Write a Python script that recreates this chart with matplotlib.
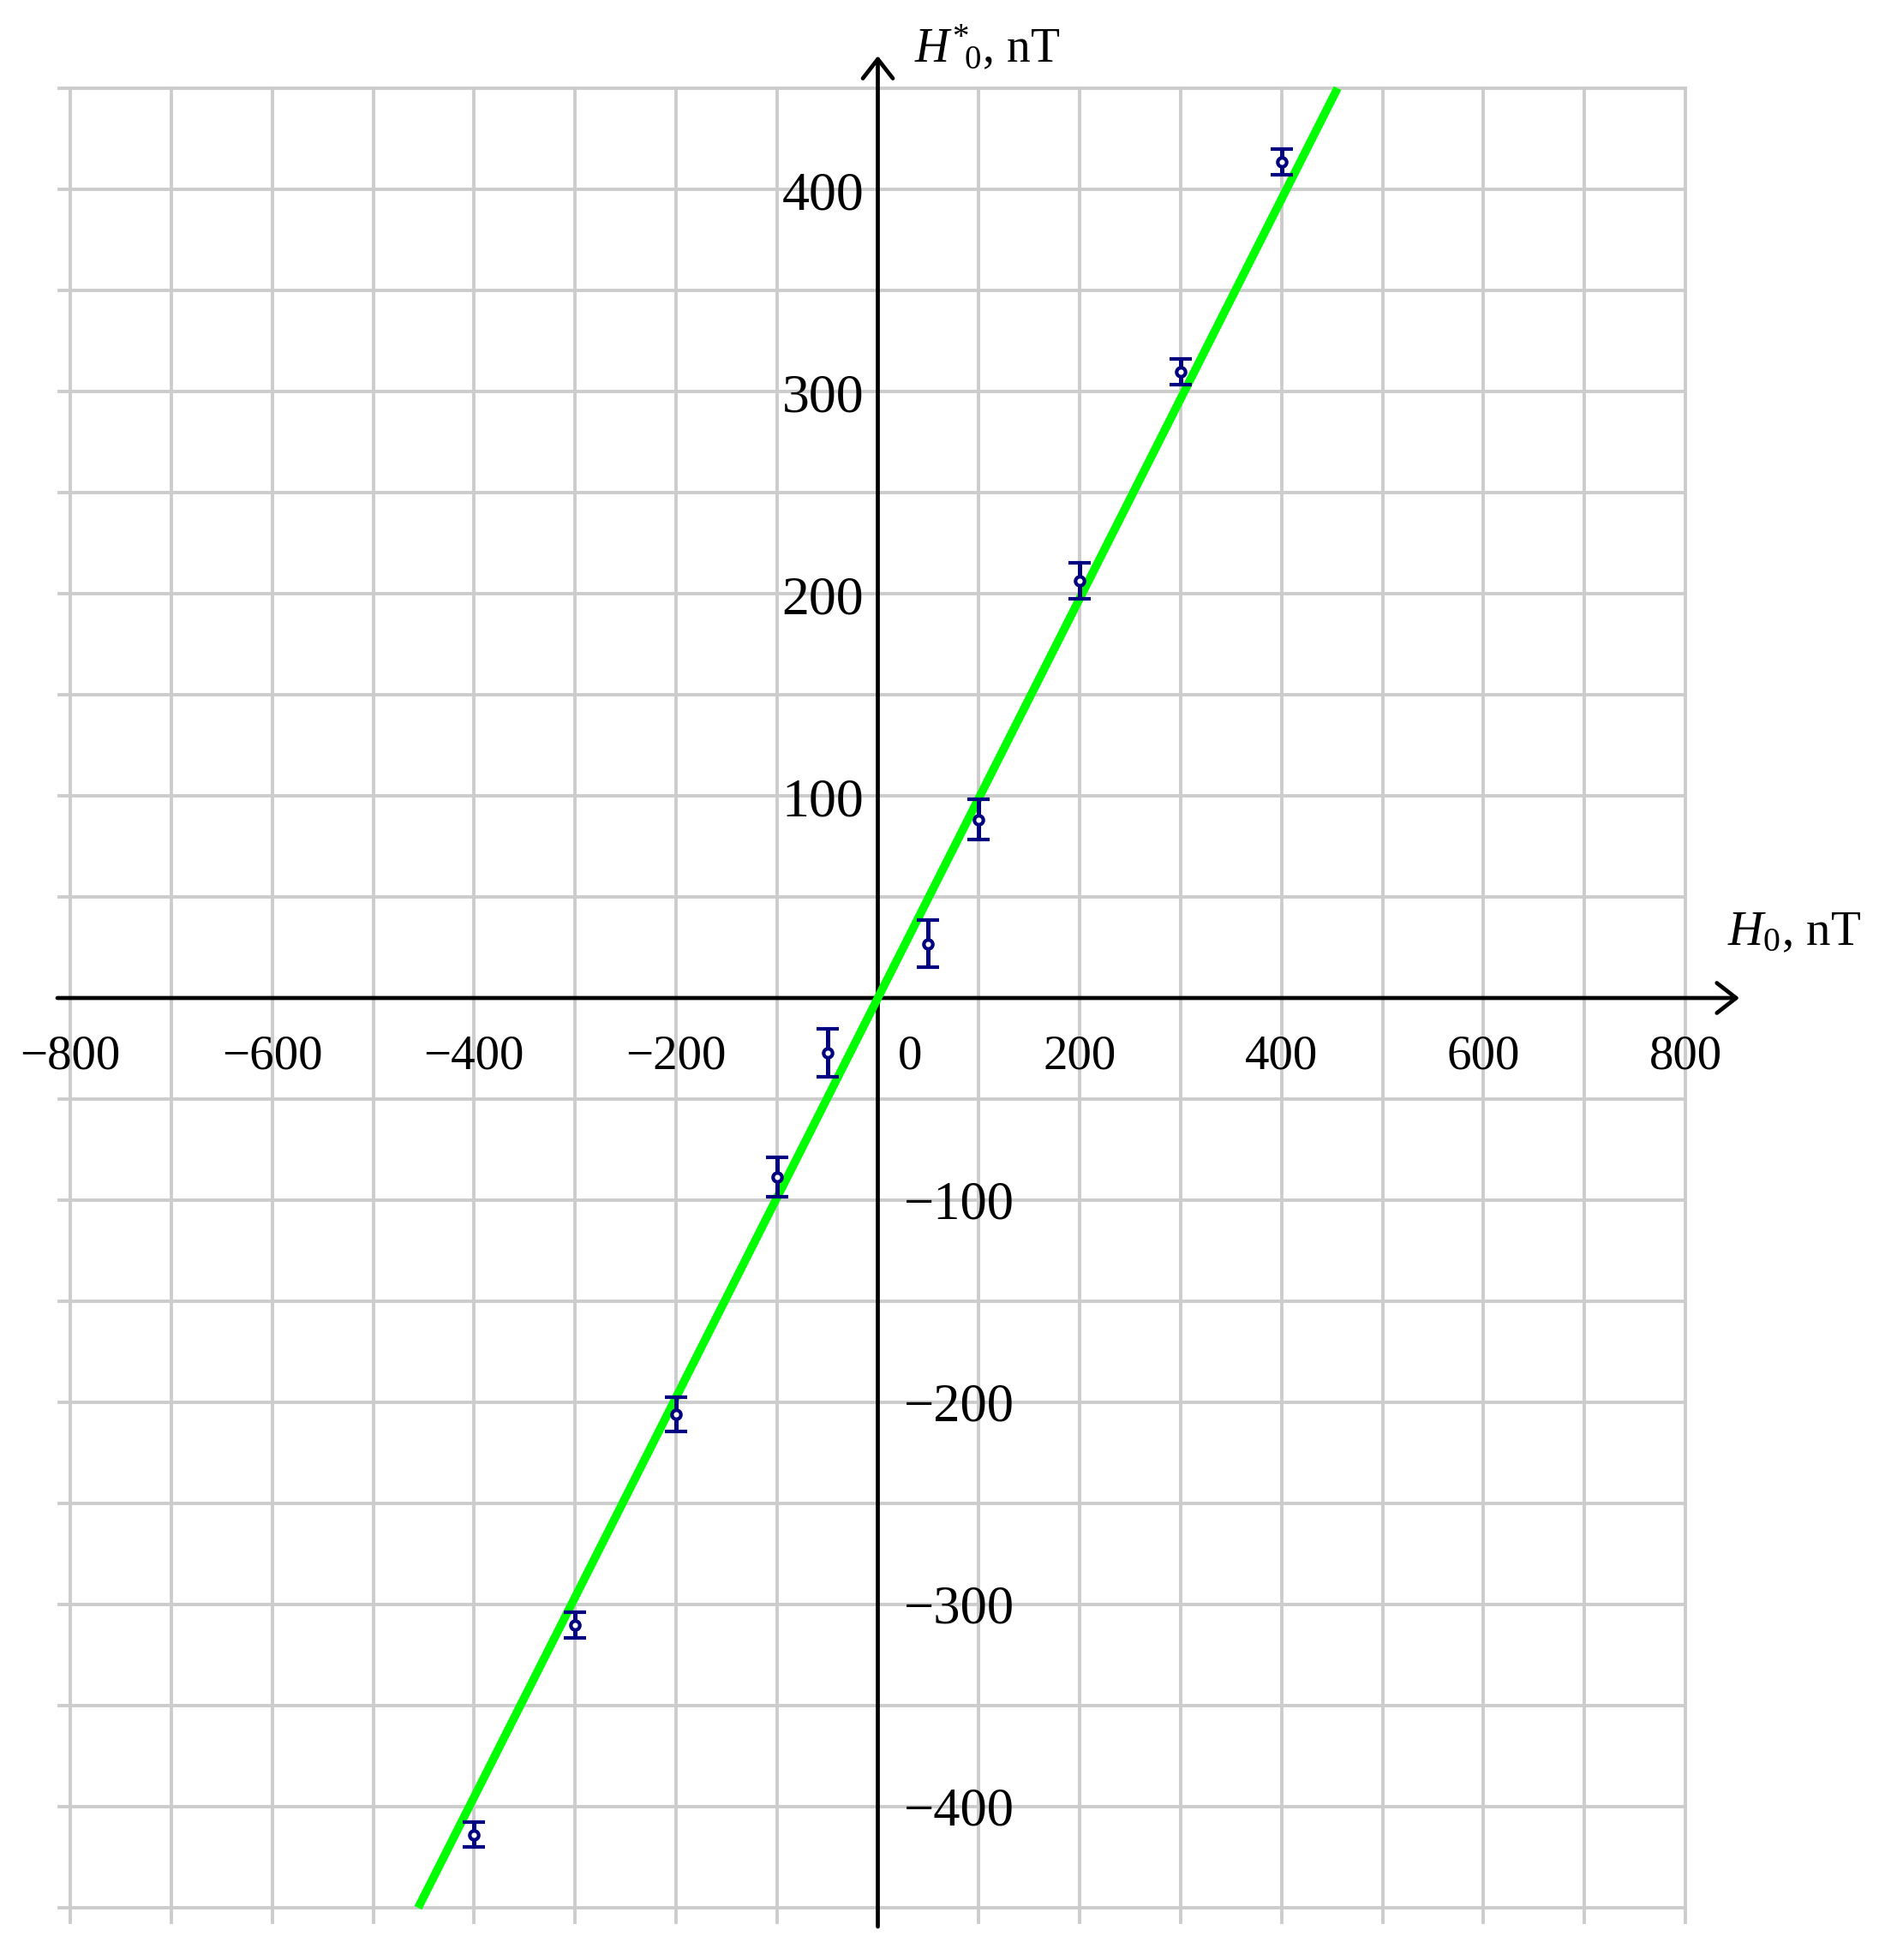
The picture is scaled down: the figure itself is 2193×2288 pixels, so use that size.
import numpy as np
import matplotlib.pyplot as plt

plt.rcParams['font.family'] = ['Liberation Serif', 'DejaVu Serif']
plt.rcParams['mathtext.fontset'] = 'custom'
plt.rcParams['mathtext.rm'] = 'Liberation Serif'
plt.rcParams['mathtext.it'] = 'Liberation Serif:italic'

## Data
h0 = [-400, -300, -200, -100, -50, 50, 100, 200, 300, 400]
h0_star = [-413.8, -310.2, -205.8, -88.7, -27.2, 26.8, 88.3, 206.3, 309.8, 413.4]
h0_err = [6.2, 6.4, 8.5, 9.7, 11.8, 11.7, 9.9, 9.0, 6.3, 6.3]
fit_slope = 0.988

x_ticks = [-800, -600, -400, -200, 200, 400, 600, 800]
y_ticks_pos = [100, 200, 300, 400]
y_ticks_neg = [-100, -200, -300, -400]

## Plotting
fig = plt.figure(figsize=(21.93, 22.88), dpi=100)
ax = fig.add_axes([0, 0, 1, 1])
ax.set_xlim(-869.7, 991.9)
ax.set_ylim(-475.8, 493.6)
ax.axis('off')

grid_col = '#cccccc'
# vertical grid lines every 100, horizontal every 50
for gx in np.arange(-800, 801, 100):
    if gx != 0:
        ax.plot([gx, gx], [-457, 450], color=grid_col, lw=2.8, zorder=1)
for gy in np.arange(-450, 451, 50):
    if gy != 0:
        ax.plot([-811, 800], [gy, gy], color=grid_col, lw=2.8, zorder=1)

# axes with arrows
arrow = dict(arrowstyle='->,head_length=0.45,head_width=0.35', lw=3.4,
             color='black', mutation_scale=36, shrinkA=0, shrinkB=0)
ax.annotate('', xy=(853.6, 0), xytext=(-812.8, 0), arrowprops=arrow, zorder=3)
ax.annotate('', xy=(0, 466), xytext=(0, -459.3), arrowprops=arrow, zorder=3)

# fitted line
fit_y = np.array([-450, 450])
ax.plot(fit_y / fit_slope, fit_y, color='#00ff00', lw=7, zorder=4,
        solid_capstyle='butt')

# measurements
ax.errorbar(h0, h0_star, yerr=h0_err, fmt='o', color='#000080', ms=7.5,
            mfc='white', mec='#000080', mew=3.0, elinewidth=3.6,
            capsize=9.5, capthick=3.6, zorder=5)

# tick labels
for t in x_ticks:
    ax.text(t, -35, str(t).replace('-', '\u2212'), ha='center',
            va='baseline', fontsize=41)
ax.text(32, -35, '0', ha='center', va='baseline', fontsize=41)
for t in y_ticks_pos:
    ax.text(-14, t - 10, str(t), ha='right', va='baseline', fontsize=46)
for t in y_ticks_neg:
    ax.text(26, t - 9, str(t).replace('-', '\u2212'), ha='left',
            va='baseline', fontsize=45)

# axis labels
ax.text(842, 26.3, r'$H_{0}$, nT', ha='left', va='baseline', fontsize=41)
ax.text(36, 462.7, r'$H^{*}\!{}_{0}$, nT', ha='left', va='baseline',
        fontsize=40)

plt.savefig('out.png', dpi=100)
